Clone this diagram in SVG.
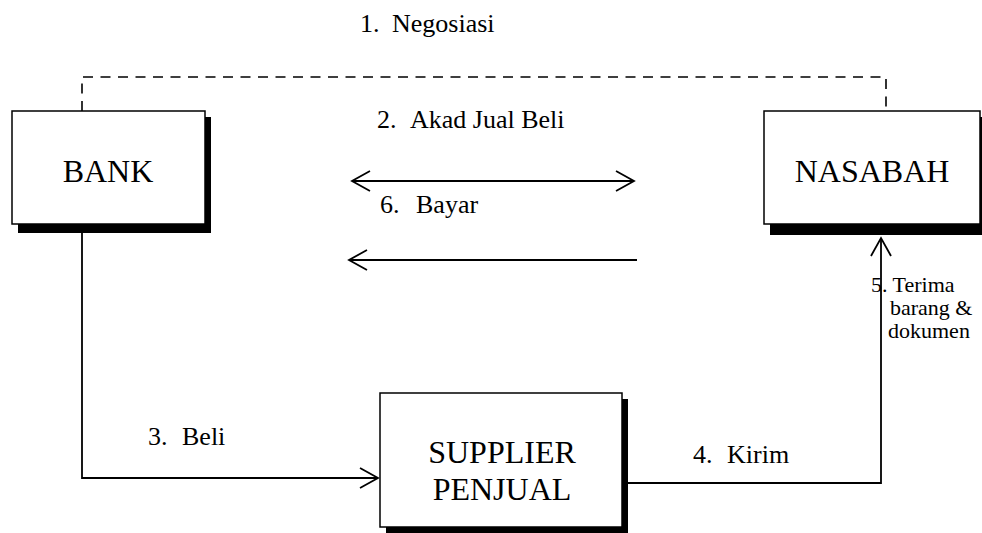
<svg xmlns="http://www.w3.org/2000/svg" width="982" height="533" viewBox="0 0 982 533">
<style>
  .box { fill: #ffffff; stroke: #000000; stroke-width: 1.5; }
  .shadow { fill: #000000; stroke: none; }
  text { font-family: 'Liberation Serif', 'DejaVu Serif', serif; fill: #000; }
  .big { font-size: 32px; }
  .lbl { font-size: 26px; }
  .sm { font-size: 22px; }
  .ln { fill: none; stroke: #000; stroke-width: 1.8; }
  .dash { fill: none; stroke: #000; stroke-width: 1.6; stroke-dasharray: 10 7.5; }
</style>
<defs>
  <marker id="arr" markerUnits="userSpaceOnUse" markerWidth="24" markerHeight="24" viewBox="-20 -12 22 24" refX="0" refY="0" orient="auto-start-reverse">
    <path d="M -18 -10 L 0 0 L -18 10" fill="none" stroke="#000" stroke-width="1.8"/>
  </marker>
</defs>
<rect width="982" height="533" fill="#ffffff"/>

<g id="labels">
  <text class="lbl" x="360" y="32">1.<tspan x="392">Negosiasi</tspan></text>
  <text class="lbl" x="377" y="128">2.<tspan x="410">Akad Jual Beli</tspan></text>
  <text class="lbl" x="380" y="213">6.<tspan x="416">Bayar</tspan></text>
  <text class="lbl" x="148" y="445">3.<tspan x="182">Beli</tspan></text>
  <text class="lbl" x="693" y="463">4.<tspan x="727">Kirim</tspan></text>
  <text class="sm" x="871" y="292">5. Terima</text>
  <text class="sm" x="890" y="315">barang &amp;</text>
  <text class="sm" x="888" y="338">dokumen</text>
</g>

<g id="connectors">
  <polyline class="dash" points="82,111 82,77 886,77 886,111"/>
  <line class="ln" x1="352" y1="181" x2="634" y2="181" marker-start="url(#arr)" marker-end="url(#arr)"/>
  <line class="ln" x1="637" y1="260" x2="349" y2="260" marker-end="url(#arr)"/>
  <polyline class="ln" points="82,233 82,478 378,478" marker-end="url(#arr)"/>
  <polyline class="ln" points="627,483 881,483 881,238" marker-end="url(#arr)"/>
</g>

<g id="bank">
  <rect class="shadow" x="18" y="117" width="193" height="116"/>
  <rect class="box" x="12" y="111" width="193" height="113"/>
  <text class="big" x="108" y="182" text-anchor="middle">BANK</text>
</g>

<g id="nasabah">
  <rect class="shadow" x="770" y="117" width="216" height="118"/>
  <rect class="box" x="764" y="111" width="216" height="113"/>
  <text class="big" x="872" y="182" text-anchor="middle">NASABAH</text>
</g>

<g id="supplier">
  <rect class="shadow" x="386" y="399" width="242" height="136"/>
  <rect class="box" x="380" y="393" width="242" height="134"/>
  <text class="big" x="502" y="463" text-anchor="middle">SUPPLIER</text>
  <text class="big" x="502" y="500" text-anchor="middle">PENJUAL</text>
</g>
</svg>
